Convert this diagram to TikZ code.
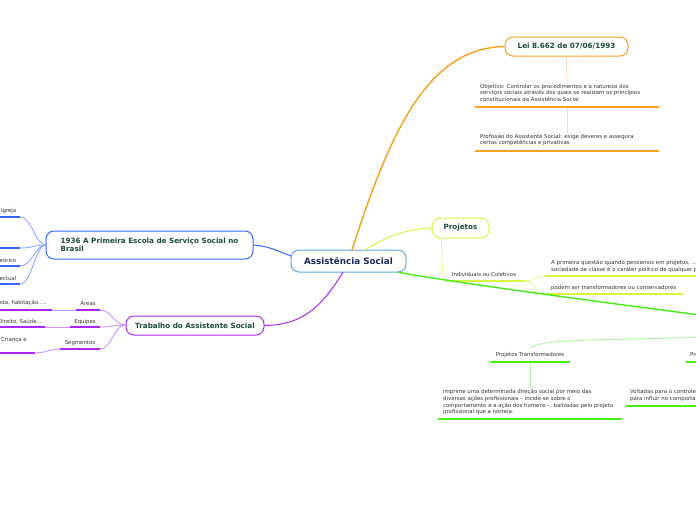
\documentclass[tikz,border=0pt]{standalone}
\usepackage{fontspec}
\setmainfont{DejaVu Sans}
\definecolor{orng}{HTML}{F5A020}
\definecolor{orngl}{HTML}{FFDDB0}
\definecolor{blu}{HTML}{3366FF}
\definecolor{blul}{HTML}{88AAFF}
\definecolor{purp}{HTML}{A828F5}
\definecolor{purpl}{HTML}{D090FF}
\definecolor{ygr}{HTML}{D8F542}
\definecolor{ygrl}{HTML}{E8F890}
\definecolor{grn}{HTML}{44EE11}
\definecolor{grnl}{HTML}{B0F5A0}
\definecolor{cbord}{HTML}{5DA9DD}
\definecolor{navy}{HTML}{1B2A5C}
\definecolor{teal}{HTML}{1E4A3A}
\definecolor{txt}{HTML}{333333}
\begin{document}
\begin{tikzpicture}[x=1pt,y=-1pt,
  mainbox/.style={draw, fill=white, line width=1pt, rounded corners=8pt, inner sep=0pt, font=\bfseries\fontsize{7.2}{8.2}\selectfont, text=teal},
  small/.style={inner sep=0pt, font=\fontsize{5.4}{6.6}\selectfont, text=txt, align=left},
  uline/.style={line width=1.3pt},
  conn/.style={line width=0.9pt}]
\useasboundingbox (0,0) rectangle (696,520);

% ---------- central
\node[mainbox, draw=cbord, minimum width=115, minimum height=22, font=\bfseries\fontsize{8.8}{10}\selectfont, text=navy] (c) at (348.5,261) {Assistência Social};

% ---------- orange branch
\node[mainbox, draw=orng, minimum width=123, minimum height=19] (lei) at (566.5,46.5) {Lei 8.662 de 07/06/1993};
\draw[orng, line width=1.4pt] (352,250) .. controls (392,125) and (430,48) .. (lei.west);
\node[small, anchor=north west] (obj) at (480,84) {Objetivo: Controlar os procedimentos e a natureza dos\\serviços sociais através dos quais se realizam os princípios\\constitucionais da Assistência Social};
\coordinate (o1a) at (475,107); \coordinate (o1b) at (659,107);
\draw[orng, uline] (o1a) -- (o1b);
\node[small, anchor=north west] (prof) at (480,134) {Profissão do Assistente Social: exige deveres e assegura\\certas competências e privativas};
\coordinate (o2a) at (475,151); \coordinate (o2b) at (659,151);
\draw[orng, uline] (o2a) -- (o2b);
\coordinate (v1) at (567,82); \coordinate (v2) at (567,108); \coordinate (v3) at (567,133);
\draw[orngl, line width=1pt] (lei.south) -- (v1);
\draw[orngl, line width=1pt] (v2) -- (v3);

% ---------- yellow-green branch
\node[mainbox, draw=ygr, minimum width=57, minimum height=20] (proj) at (460.5,228) {Projetos};
\draw[ygr, line width=1pt] (365,250) .. controls (390,234) and (410,229) .. (proj.west);
\node[small] (ind) at (484,274.5) {Individuais ou Coletivos};
\coordinate (i1) at (447,281); \coordinate (i2) at (525,281);
\coordinate (pb) at (441,238);
\draw[ygrl, line width=0.9pt] (pb) .. controls (443,268) and (441,281) .. (i1);
\draw[ygr, uline] (i1) -- (i2);
\node[small, anchor=north west] (prim) at (551,260) {A primeira questão quando pensamos  em projetos, ...\\sociedade de classe é o caráter político de qualquer projeto};
\coordinate (p1a) at (545,276); \coordinate (p1b) at (700,276);
\draw[ygr, uline] (p1a) -- (p1b);
\node[small, anchor=west] (pod) at (551,288) {podem ser transformadores ou conservadores};
\coordinate (p2a) at (545,294); \coordinate (p2b) at (683,294);
\draw[ygr, uline] (p2a) -- (p2b);
\draw[ygrl, conn] (i2) .. controls (535,281) and (535,276) .. (p1a);
\draw[ygrl, conn] (i2) .. controls (535,281) and (535,294) .. (p2a);

% ---------- green branch
\coordinate (gout) at (700,315);
\draw[grn, line width=1.4pt] (397,272) .. controls (450,282) and (600,302) .. (gout);
\coordinate (gl1) at (530,348); \coordinate (gl2) at (700,337);
\draw[grnl, conn] (gl1) .. controls (545,338) and (600,341) .. (gl2);
\node[small] (ptr) at (530,355.5) {Projetos Transformadores};
\coordinate (t1) at (490,362); \coordinate (t2) at (570,362);
\draw[grn, uline] (t1) -- (t2);
\coordinate (tv1) at (530,363); \coordinate (tv2) at (530,388);
\draw[grnl, line width=1pt] (tv1) -- (tv2);
\node[small, anchor=north west] (impr) at (443,389.5) {imprime uma determinada direção social por meio das\\diversas ações profissionais –  incide-se sobre o\\comportamento e a ação dos homens –, balizadas pelo projeto\\profissional que a norteia.};
\coordinate (im1) at (438,419); \coordinate (im2) at (622,419);
\draw[grn, uline] (im1) -- (im2);
\node[small, anchor=west] (pcon) at (690,355.5) {Projetos Conservadores};
\coordinate (pc1) at (686,362); \coordinate (pc2) at (700,362);
\draw[grn, uline] (pc1) -- (pc2);
\node[small, anchor=north west] (volt) at (630,389.5) {Voltadas para o controle social\\para influir no comportamento};
\coordinate (vo1) at (626,406); \coordinate (vo2) at (700,406);
\draw[grn, uline] (vo1) -- (vo2);

% ---------- blue branch
\node[mainbox, draw=blu, minimum width=207, minimum height=28, align=left] (esc) at (149.5,245) {1936 A Primeira Escola de Serviço Social no\\Brasil};
\draw[blu, line width=1pt] (291,256) .. controls (275,250) and (268,246) .. (esc.east);
\coordinate (bs) at (46,245);
\coordinate (b1) at (20,217); \coordinate (b1a) at (0,217);
\coordinate (b2) at (20,248); \coordinate (b2a) at (0,248);
\coordinate (b3) at (20,266); \coordinate (b3a) at (0,266);
\coordinate (b4) at (20,284); \coordinate (b4a) at (0,284);
\node[small, anchor=east] (igr) at (16.5,211.5) {Igreja};
\node[small, anchor=east] (teo) at (16.5,260.5) {eórico};
\node[small, anchor=east] (int) at (16.5,278.5) {ectual};
\foreach \b in {1,2,3,4}{
  \draw[blu, uline] (b\b a) -- (b\b);
  \draw[blul, conn] (bs) .. controls (35,245) and (32,0|-b\b) .. (b\b);
}

% ---------- purple branch
\node[mainbox, draw=purp, minimum width=138, minimum height=19] (trab) at (195,325.5) {Trabalho do Assistente Social};
\draw[purp, line width=1pt] (343,272) .. controls (320,310) and (300,325) .. (trab.east);
\coordinate (ps) at (126,325);
\node[small] (are) at (88,303) {Áreas};
\coordinate (a1) at (76,310); \coordinate (a2) at (100,310); \coordinate (a0) at (52,310); \coordinate (a00) at (0,310);
\draw[purp, uline] (a1) -- (a2);
\draw[purpl, line width=0.5pt] (a0) -- (a1);
\draw[purp, uline] (a00) -- (a0);
\node[small, anchor=east] (hab) at (47,303) {nda, habitação.....};
\node[small] (equ) at (85,322) {Equipes};
\coordinate (e1) at (70,327); \coordinate (e2) at (100,327); \coordinate (e0) at (45,327); \coordinate (e00) at (0,327);
\draw[purp, uline] (e1) -- (e2);
\draw[purpl, line width=0.5pt] (e0) -- (e1);
\draw[purp, uline] (e00) -- (e0);
\node[small, anchor=east] (dir) at (42,322) {Direito, Saúde...};
\node[small] (seg) at (80,343) {Segmentos};
\coordinate (s1) at (60,349); \coordinate (s2) at (100,349); \coordinate (s0) at (35,353); \coordinate (s00) at (0,353);
\draw[purp, uline] (s1) -- (s2);
\draw[purp, uline] (s00) -- (s0);
\draw[purpl, conn] (s0) .. controls (45,353) and (50,349) .. (s1);
\node[small, anchor=west] (cri) at (1,340) {Criança e};
\foreach \p in {a2,e2,s2}{
  \draw[purpl, conn] (ps) .. controls (113,325) and (112,0|-\p) .. (\p);
}
\end{tikzpicture}
\end{document}
